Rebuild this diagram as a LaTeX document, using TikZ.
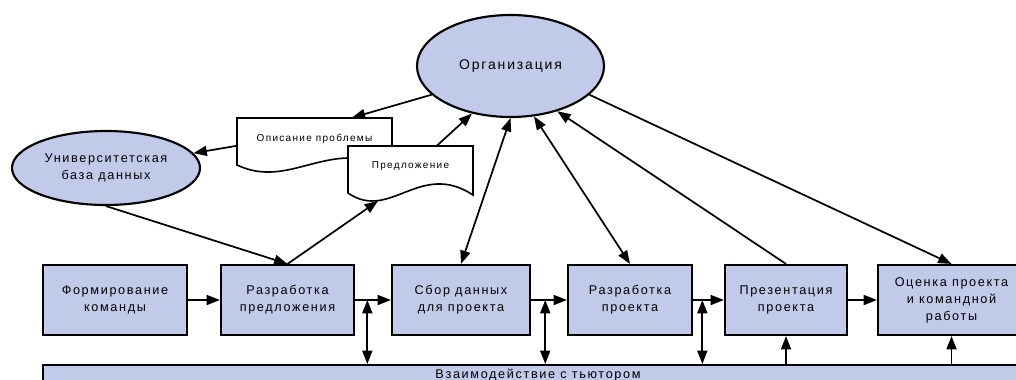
\documentclass[tikz,border=0pt]{standalone}
\usepackage{fontspec}
\setmainfont{Liberation Sans}[LetterSpace=13]
\usetikzlibrary{arrows.meta,calc,shapes.geometric}
\definecolor{boxfill}{RGB}{193,202,232}
\newlength\px
\setlength\px{0.75pt}
\begin{document}
\begin{tikzpicture}[x=0.75pt,y=-0.75pt,
  mainfont/.style={font=\fontsize{9.5}{12.75}\selectfont},
  proc/.style={draw, line width=1.6pt, fill=boxfill, minimum height=70\px, inner sep=0pt, align=center, mainfont},
  ell/.style={ellipse, draw, line width=1.6pt, fill=boxfill, inner sep=0pt, align=center, mainfont},
  docshape/.style={draw, line width=1.2pt, fill=white},
  doctext/.style={inner sep=0pt, font=\fontsize{7.5}{9}\selectfont},
  tip/.tip={Triangle[length=10pt,width=7.5pt]},
  conn/.style={line width=1.3pt, -tip},
  conntwo/.style={line width=1.3pt, tip-tip}
]
\useasboundingbox (0,0) rectangle (1016,379);
\clip (0,0) rectangle (1016,379);

% ellipses
\node[ell, minimum width=187\px, minimum height=102\px, font=\fontsize{10.5}{13}\selectfont] (org) at (510.5,66) {Организация};
\node[ell, minimum width=188\px, minimum height=74\px] (univ) at (106,168) {Университетская\\база данных};

% process boxes
\node[proc, minimum width=144\px] (B1) at (115,300) {Формирование\\команды};
\node[proc, minimum width=133\px] (B2) at (287.5,300) {Разработка\\предложения};
\node[proc, minimum width=138\px] (B3) at (461,300) {Сбор данных\\для проекта};
\node[proc, minimum width=124\px] (B4) at (630,300) {Разработка\\проекта};
\node[proc, minimum width=122\px] (B5) at (786,300) {Презентация\\проекта};
\node[proc, minimum width=147\px] (B6) at (951.5,300) {Оценка проекта\\и командной\\работы};
\node[proc, minimum width=990\px, minimum height=20\px] (bar) at (538,375) {Взаимодействие с тьютором};

% documents
\path[docshape] (237,118) -- (392,118) -- (392,167) .. controls (327,138) and (290,190) .. (237,165) -- cycle;
\node[doctext, minimum width=155\px, minimum height=42\px] (opis) at (314.5,139) {Описание проблемы};
\path[docshape] (348,146) -- (473,146) -- (473,195) .. controls (420,160) and (390,222) .. (348,193) -- cycle;
\node[doctext, minimum width=125\px, minimum height=40\px] (pred) at (410.5,166) {Предложение};
\coordinate (predwave) at (378,201);

% horizontal flow
\draw[conn] (B1) -- (B2);
\draw[conn] (B2) -- (B3);
\draw[conn] (B3) -- (B4);
\draw[conn] (B4) -- (B5);
\draw[conn] (B5) -- (B6);

% tutor links
\coordinate (j1) at ($(B2.east)!0.342!(B3.west)$);
\coordinate (j2) at ($(B3.east)!0.395!(B4.west)$);
\coordinate (j3) at ($(B4.east)!0.30!(B5.west)$);
\draw[conntwo] (j1) -- (j1 |- bar.north);
\draw[conntwo] (j2) -- (j2 |- bar.north);
\draw[conntwo] (j3) -- (j3 |- bar.north);
\draw[conn] (bar.north -| B5.south) -- (B5.south);
\draw[conn] (bar.north -| B6.south) -- (B6.south);

% organisation links
\draw[conn] (org.200) -- ($(opis.north west)!0.74!(opis.north east)$);
\draw[conn] (opis.185) -- (univ);
\draw[conn] ($(pred.north west)!0.71!(pred.north east)$) -- (org.231);
\draw[conn] (univ.south) -- (B2.north);
\draw[conn] (B2.north) -- (predwave);
\draw[conntwo] (org.south) -- (B3.north);
\draw[conntwo] (org.-65) -- (B4.north);
\draw[conn] (B5.north) -- (org.-44);
\draw[conn] (org.-20) -- (B6.north);
\end{tikzpicture}
\end{document}
